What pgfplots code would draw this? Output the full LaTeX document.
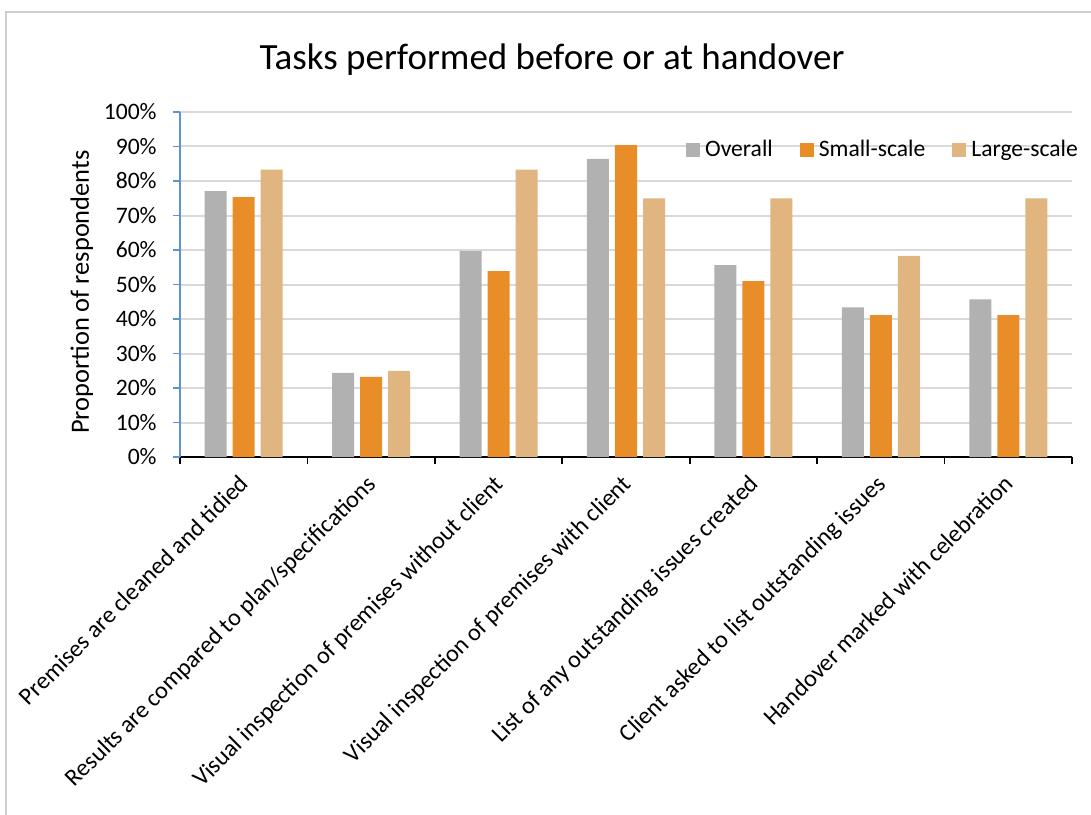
\documentclass[border=0pt]{standalone}
\usepackage{fontspec}
\setmainfont{Carlito}
\usepackage{pgfplots}
\pgfplotsset{compat=1.18}

\definecolor{barGray}{RGB}{177,177,177}
\definecolor{barOrange}{RGB}{232,141,39}
\definecolor{barTan}{RGB}{225,181,128}
\definecolor{axisBlue}{RGB}{91,148,210}
\definecolor{gridGray}{RGB}{217,217,217}
\definecolor{frameGray}{RGB}{205,205,205}

\newcommand{\lblfont}{\fontsize{11.8}{14}\selectfont}

\pgfplotsset{
  sq legend/.style={legend image code/.code={\fill[##1] (0pt,-3.5pt) rectangle (7pt,3.5pt);}}
}

\begin{document}
\begin{tikzpicture}
\useasboundingbox (0pt,0pt) rectangle (545.5pt,407pt);
% chart frame
\draw[frameGray, line width=1pt] (2.75pt,-2pt) -- (2.75pt,400.75pt) -- (548pt,400.75pt);
% title
\node[font=\fontsize{18.5}{22}\selectfont, anchor=base] at (276pt,372pt) {Tasks performed before or at handover};

\begin{axis}[
  at={(90pt,178.5pt)}, anchor=south west,
  scale only axis, width=446pt, height=172.5pt,
  ybar, bar width=11pt,
  xmin=-0.5, xmax=6.5, ymin=0, ymax=100,
  axis x line*=bottom, axis y line*=left,
  x axis line style={black, line width=0.9pt, -},
  y axis line style={axisBlue, line width=0.8pt, -},
  xtick={0,...,6},
  xticklabels={Premises are cleaned and tidied,
               Results are compared to plan/specifications,
               Visual inspection of premises without client,
               Visual inspection of premises with client,
               List of any outstanding issues created,
               Client asked to list outstanding issues,
               Handover marked with celebration},
  minor xtick={-0.5,0.5,...,6.5},
  major x tick style={draw=none},
  minor x tick style={black, line width=0.8pt},
  ytick={0,10,...,100},
  ytick style={axisBlue, line width=0.8pt},
  tick align=outside, major tick length=3.5pt, minor tick length=3.5pt,
  ymajorgrids, y grid style={gridGray, line width=1pt},
  yticklabel={\pgfmathprintnumber{\tick}\%},
  /pgf/number format/assume math mode=true,
  ticklabel style={font=\lblfont},
  yticklabel style={anchor=east, inner sep=0pt, xshift=-8pt},
  xticklabel style={font=\fontsize{12.1}{14}\selectfont, rotate=45, anchor=north east, inner sep=0pt, yshift=4pt},
  xticklabel shift=7.3pt,
  ylabel={Proportion of respondents},
  ylabel style={font=\fontsize{13.2}{15}\selectfont, at={(axis description cs:-0.11,0.478)}, anchor=center},
  legend columns=3,
  legend style={draw=none, fill=none, at={(0.567,0.890)}, anchor=west,
    inner sep=0pt, font=\lblfont, nodes={inner sep=0pt},
    /tikz/every odd column/.append style={column sep=2.5pt},
    /tikz/every even column/.append style={column sep=13.5pt}},
]
\addplot[sq legend, fill=barGray, draw=none, bar shift=-14pt] coordinates
  {(0,77.1) (1,24.4) (2,59.7) (3,86.4) (4,55.6) (5,43.4) (6,45.7)};
\addplot[sq legend, fill=barOrange, draw=none, bar shift=0pt] coordinates
  {(0,75.3) (1,23.2) (2,53.9) (3,90.4) (4,51.0) (5,41.1) (6,41.1)};
\addplot[sq legend, fill=barTan, draw=none, bar shift=14pt] coordinates
  {(0,83.3) (1,25.0) (2,83.3) (3,75.0) (4,75.0) (5,58.3) (6,75.0)};
\legend{Overall, Small-scale, Large-scale}
\end{axis}
\end{tikzpicture}
\end{document}
